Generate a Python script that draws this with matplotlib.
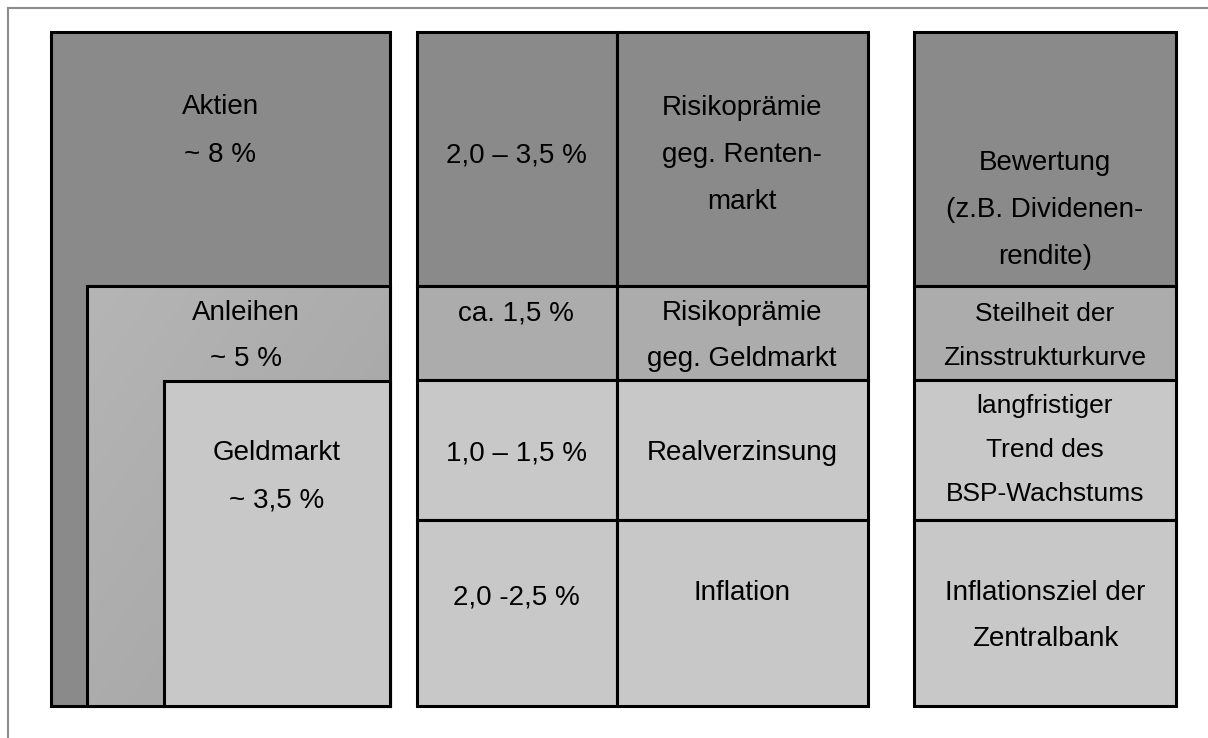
import matplotlib.pyplot as plt
import matplotlib.patches as mpatches
import numpy as np

plt.rcParams["font.family"] = ["Liberation Sans", "DejaVu Sans"]

W, H = 1208, 738

# left block: nested asset classes (label, expected return)
assets = ["Aktien", "Anleihen", "Geldmarkt"]
asset_returns = ["~ 8 %", "~ 5 %", "~ 3,5 %"]

# middle block: return components per row
components = ["2,0 \u2013 3,5 %", "ca. 1,5 %", "1,0 \u2013 1,5 %", "2,0 -2,5 %"]
component_names = ["Risikoprämie\ngeg. Renten-\nmarkt",
                   "Risikoprämie\ngeg. Geldmarkt",
                   "Realverzinsung",
                   "Inflation"]

# right block: drivers per row
drivers = ["Bewertung\n(z.B. Dividenen-\nrendite)",
           "Steilheit der\nZinsstrukturkurve",
           "langfristiger\nTrend des\nBSP-Wachstums",
           "Inflationsziel der\nZentralbank"]

# row boundaries (pixels from top) shared by middle and right block
row_edges = [32, 286, 380, 520, 706]
row_colors = ["#8a8a8a", "#acacac", "#c8c8c8", "#c8c8c8"]

fig = plt.figure(figsize=(W / 100, H / 100), dpi=100)
ax = fig.add_axes([0, 0, 1, 1])
ax.set_xlim(0, W)
ax.set_ylim(H, 0)
ax.axis("off")

# thin frame round the picture
ax.plot([8, W], [8, 8], color="#8c8c8c", lw=1.5)
ax.plot([8, 8], [8, H], color="#8c8c8c", lw=1.5)

lw = 2.2
fs = 20
ls = 2.05

def box(x0, y0, x1, y1, fc):
    ax.add_patch(mpatches.Rectangle((x0, y0), x1 - x0, y1 - y0, facecolor=fc,
                                    edgecolor="black", lw=lw))

# ---- left block ----
box(51, 32, 390, 706, "#8a8a8a")
# Anleihen with a soft diagonal gradient (lighter top-left)
t = np.add.outer(np.linspace(0, 1, 60), np.linspace(0, 1, 60)) / 2
g = 0.71 - 0.07 * t
rgb = np.dstack([g, g, g])
im = ax.imshow(rgb, extent=(87, 390, 706, 286), origin="upper", zorder=1,
               aspect="auto", interpolation="bilinear")
r = mpatches.Rectangle((87, 286), 303, 420, facecolor="none", edgecolor="black",
                       lw=lw, zorder=2)
ax.add_patch(r)
im.set_clip_path(r)
ax.set_xlim(0, W)
ax.set_ylim(H, 0)
geld = mpatches.Rectangle((164, 381), 226, 325, facecolor="#c8c8c8",
                          edgecolor="black", lw=lw, zorder=3)
ax.add_patch(geld)

left_pos = [(220, 131), (246, 336), (277, 477)]
for (x, y), a, rr in zip(left_pos, assets, asset_returns):
    ax.text(x, y, a + "\n" + rr, ha="center", va="center", fontsize=fs,
            linespacing=ls, zorder=5)

# ---- middle and right blocks ----
mid_x = [417, 617, 868]
right_x = [914, 1176]
for i in range(4):
    y0, y1 = row_edges[i], row_edges[i + 1]
    box(mid_x[0], y0, mid_x[1], y1, row_colors[i])
    box(mid_x[1], y0, mid_x[2], y1, row_colors[i])
    box(right_x[0], y0, right_x[1], y1, row_colors[i])

mid_y1 = [155, 313, 453, 597]
mid_y2 = [155, 336, 453, 593]
right_y = [210, 336, 450, 616]
right_fs = [20, 19, 19, 20]
for i in range(4):
    ax.text(516, mid_y1[i], components[i], ha="center", va="center", fontsize=fs)
    ax.text(742, mid_y2[i], component_names[i], ha="center", va="center",
            fontsize=fs, linespacing=ls)
    ax.text(1045, right_y[i], drivers[i], ha="center", va="center",
            fontsize=right_fs[i], linespacing=ls)

fig.savefig("out.png", dpi=100, facecolor="white")
